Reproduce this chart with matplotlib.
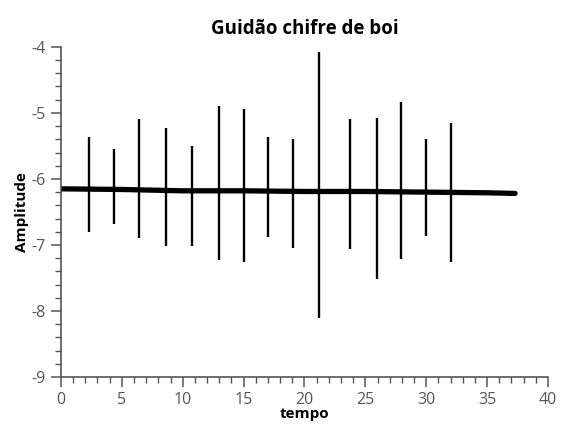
import matplotlib
matplotlib.use("Agg")
import matplotlib.pyplot as plt
from matplotlib.ticker import MultipleLocator

plt.rcParams["font.family"] = ["Open Sans", "DejaVu Sans"]
plt.rcParams["axes.unicode_minus"] = False

# spike positions (s) and their peak / trough amplitudes
spike_t = [2.27, 4.33, 6.38, 8.62, 10.73, 13.0, 15.02, 17.02, 19.06,
           21.2, 23.78, 25.94, 27.9, 30.0, 32.0]
spike_top = [-5.37, -5.55, -5.10, -5.23, -5.50, -4.89, -4.94, -5.37, -5.40,
             -4.08, -5.10, -5.08, -4.84, -5.39, -5.15]
spike_bot = [-6.81, -6.68, -6.90, -7.01, -7.01, -7.23, -7.26, -6.88, -7.04,
             -8.10, -7.06, -7.52, -7.22, -6.87, -7.26]

# slowly drifting baseline of the signal
base_t = [0, 5, 10, 15, 20, 25, 30, 35, 37.3]
base_y = [-6.15, -6.16, -6.18, -6.18, -6.19, -6.19, -6.20, -6.21, -6.22]

axis_col = "#555555"

fig = plt.figure(figsize=(5.62, 4.26), dpi=100)
ax = fig.add_axes([0.1085, 0.115, 0.8665, 0.775])

ax.plot(base_t, base_y, color="black", lw=3.8, solid_capstyle="round")
ax.vlines(spike_t, spike_bot, spike_top, color="black", lw=1.7)

ax.set_xlim(0, 40)
ax.set_ylim(-9, -4)
ax.xaxis.set_major_locator(MultipleLocator(5))
ax.xaxis.set_minor_locator(MultipleLocator(1))
ax.yaxis.set_major_locator(MultipleLocator(1))
ax.yaxis.set_minor_locator(MultipleLocator(0.2))

for side in ["top", "right"]:
    ax.spines[side].set_visible(False)
for side in ["left", "bottom"]:
    ax.spines[side].set_color(axis_col)
    ax.spines[side].set_linewidth(1.2)

ax.tick_params(which="major", direction="out", length=7, width=1.1,
               color=axis_col, labelsize=11.5, labelcolor="#555555", pad=4)
ax.tick_params(which="minor", direction="out", length=4, width=1.0,
               color=axis_col)

ax.set_title("Guidão chifre de boi", fontsize=13.5, fontweight="bold", pad=9)
ax.set_xlabel("tempo", fontsize=11, fontweight="bold", labelpad=-1)
ax.set_ylabel("Amplitude", fontsize=11, fontweight="bold", labelpad=2)

fig.savefig("out.png", dpi=100)
